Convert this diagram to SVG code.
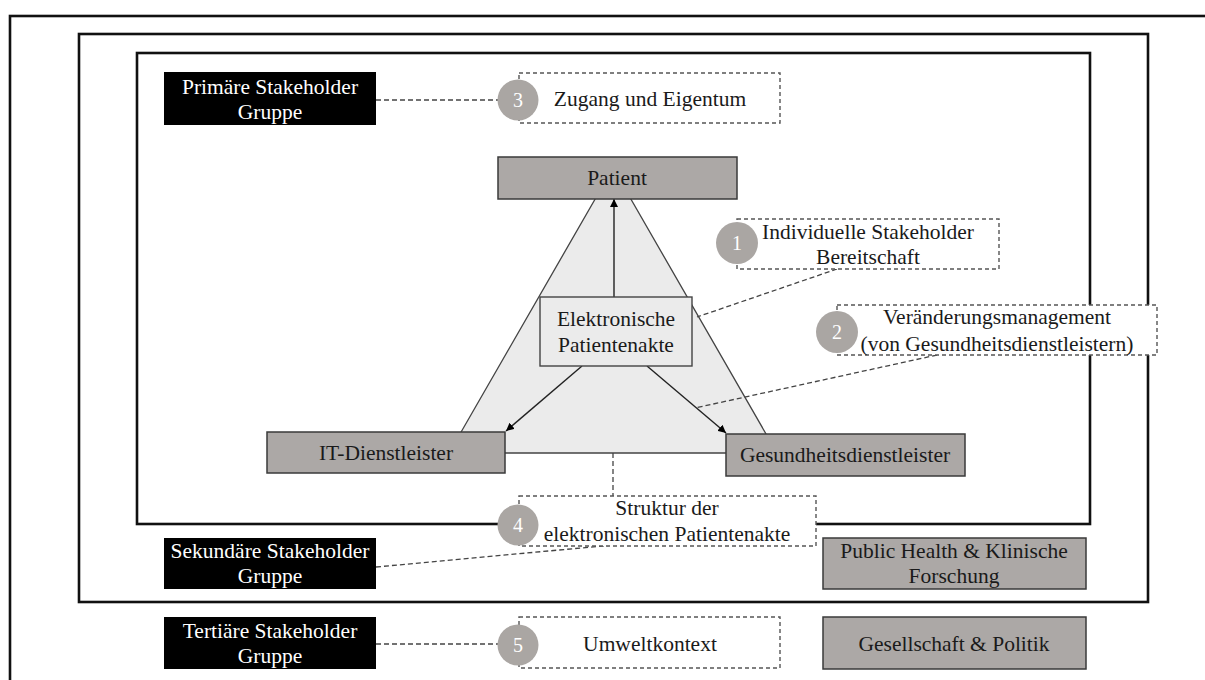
<svg xmlns="http://www.w3.org/2000/svg" width="1205" height="680" viewBox="0 0 1205 680">
  <style>
    .frame { fill: none; stroke: #111; stroke-width: 2.6; }
    .black { fill: #000; }
    .gray { fill: #aca8a6; stroke: #3a3a3a; stroke-width: 1.5; }
    .plain { fill: #ebebeb; stroke: #444; stroke-width: 1.3; }
    .dbox { fill: #fff; stroke: #555; stroke-width: 1.4; stroke-dasharray: 4 3; }
    .dline { fill: none; stroke: #444; stroke-width: 1.3; stroke-dasharray: 5 3; }
    .arrow { fill: none; stroke: #222; stroke-width: 1.4; marker-end: url(#head); }
    .num { fill: #aaa6a3; }
    text { font-family: "Liberation Serif", "Times New Roman", serif; font-size: 21.5px; text-anchor: middle; fill: #1a1a1a; }
    .w { fill: #fff; }
    .n { fill: #fff; font-size: 20px; }
  </style>
  <defs>
    <marker id="head" viewBox="0 0 10 10" refX="10" refY="5" markerWidth="8" markerHeight="8" markerUnits="userSpaceOnUse" orient="auto">
      <path d="M0,0 L10,5 L0,10 z" fill="#000"/>
    </marker>
  </defs>

  <rect width="1205" height="680" fill="#fff"/>

  <!-- nested stakeholder frames -->
  <g id="frames">
    <rect class="frame" x="10" y="16" width="1205" height="680"/>
    <rect class="frame" x="79" y="34" width="1069" height="568"/>
    <rect class="frame" x="137" y="53" width="953" height="471"/>
  </g>

  <!-- triangle behind the record -->
  <g id="triangle">
    <polygon class="plain" points="613,168 449,453 777,453"/>
  </g>

  <!-- connectors -->
  <g id="connectors">
    <line class="dline" x1="376" y1="100" x2="500" y2="100"/>
    <line class="dline" x1="837" y1="269" x2="697" y2="317"/>
    <line class="dline" x1="937" y1="355" x2="695" y2="408"/>
    <line class="dline" x1="613" y1="453" x2="613" y2="496"/>
    <line class="dline" x1="376" y1="567" x2="613" y2="545"/>
    <line class="dline" x1="376" y1="644" x2="500" y2="644"/>
    <line class="arrow" x1="614" y1="297" x2="614" y2="199"/>
    <line class="arrow" x1="582" y1="366" x2="506" y2="431"/>
    <line class="arrow" x1="647" y1="366" x2="726" y2="433"/>
  </g>

  <g id="primary-group">
    <rect class="black" x="164" y="72" width="212" height="53"/>
    <text class="w" x="270" y="94">Primäre Stakeholder</text>
    <text class="w" x="270" y="119">Gruppe</text>
  </g>

  <g id="secondary-group">
    <rect class="black" x="164" y="538" width="212" height="51"/>
    <text class="w" x="270" y="558">Sekundäre Stakeholder</text>
    <text class="w" x="270" y="583">Gruppe</text>
  </g>

  <g id="tertiary-group">
    <rect class="black" x="164" y="617" width="212" height="52"/>
    <text class="w" x="270" y="638">Tertiäre Stakeholder</text>
    <text class="w" x="270" y="663">Gruppe</text>
  </g>

  <g id="patient">
    <rect class="gray" x="498" y="157" width="239" height="42"/>
    <text x="617" y="185">Patient</text>
  </g>

  <g id="it-provider">
    <rect class="gray" x="267" y="432" width="238" height="41"/>
    <text x="386" y="460">IT-Dienstleister</text>
  </g>

  <g id="health-provider">
    <rect class="gray" x="726" y="434" width="239" height="42"/>
    <text x="845" y="462">Gesundheitsdienstleister</text>
  </g>

  <g id="record">
    <rect x="540" y="297" width="152" height="69" fill="#ebebeb" stroke="#444" stroke-width="1.4"/>
    <text x="616" y="326">Elektronische</text>
    <text x="616" y="352">Patientenakte</text>
  </g>

  <g id="public-health">
    <rect class="gray" x="823" y="538" width="263" height="51"/>
    <text x="954" y="558">Public Health &amp; Klinische</text>
    <text x="954" y="583">Forschung</text>
  </g>

  <g id="society">
    <rect class="gray" x="823" y="617" width="263" height="52"/>
    <text x="954" y="651">Gesellschaft &amp; Politik</text>
  </g>

  <g id="factor-1">
    <rect class="dbox" x="737" y="219" width="262" height="50"/>
    <circle class="num" cx="737" cy="243" r="21"/>
    <text class="n" x="737" y="250">1</text>
    <text x="868" y="239">Individuelle Stakeholder</text>
    <text x="868" y="264">Bereitschaft</text>
  </g>

  <g id="factor-2">
    <rect class="dbox" x="837" y="305" width="320" height="50"/>
    <circle class="num" cx="837" cy="332" r="21"/>
    <text class="n" x="837" y="339">2</text>
    <text x="997" y="324">Veränderungsmanagement</text>
    <text x="997" y="351">(von Gesundheitsdienstleistern)</text>
  </g>

  <g id="factor-3">
    <rect class="dbox" x="519" y="73" width="261" height="50"/>
    <circle class="num" cx="518" cy="100" r="20.5"/>
    <text class="n" x="518" y="107">3</text>
    <text x="650" y="106">Zugang und Eigentum</text>
  </g>

  <g id="factor-4">
    <rect class="dbox" x="519" y="496" width="297" height="50"/>
    <circle class="num" cx="518" cy="525" r="20.5"/>
    <text class="n" x="518" y="532">4</text>
    <text x="667" y="515">Struktur der</text>
    <text x="667" y="541">elektronischen Patientenakte</text>
  </g>

  <g id="factor-5">
    <rect class="dbox" x="519" y="617" width="261" height="51"/>
    <circle class="num" cx="518" cy="645" r="20.5"/>
    <text class="n" x="518" y="652">5</text>
    <text x="650" y="651">Umweltkontext</text>
  </g>
</svg>
